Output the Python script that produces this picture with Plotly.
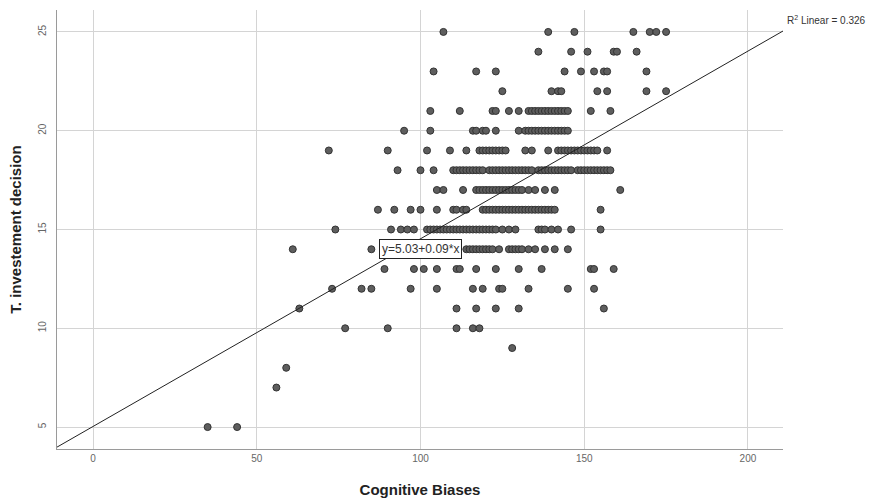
import plotly.graph_objects as go

# ---- data: Cognitive Biases score (x) for each T. investement decision value (y) ----
row_25 = [107, 139, 147, 165, 170, 172, 175]
row_24 = [136, 146, 151, 159, 160, 166]
row_23 = [104, 117, 123, 144, 149, 153, 156, 157, 169]
row_22 = [125, 140, 142, 143, 154, 157, 169, 175]
row_21 = [103, 112, 122, 123, 127, 130, 133, 134, 135, 136, 137, 138, 139, 140, 141,
          142, 143, 144, 145, 152, 158]
row_20 = [95, 103, 116, 117, 119, 120, 123, 130, 132, 133, 134, 135, 136, 137, 138,
          139, 140, 141, 142, 143, 144, 145]
row_19 = [72, 90, 102, 109, 114, 118, 119, 120, 121, 122, 123, 124, 125, 126, 132, 134,
          139, 142, 143, 144, 145, 146, 147, 148, 149, 150, 151, 152, 153, 154, 157]
row_18 = [93, 100, 104, 110, 111, 112, 113, 114, 115, 116, 117, 118, 119, 121, 122, 123,
          124, 125, 126, 127, 128, 129, 130, 131, 132, 133, 134, 136, 137, 138, 139, 140,
          141, 142, 143, 144, 145, 146, 148, 149, 150, 151, 152, 153, 154, 155, 156, 157, 158]
row_17 = [105, 107, 113, 117, 118, 119, 120, 121, 122, 123, 124, 125, 126, 127, 128, 129,
          130, 131, 133, 135, 138, 141, 161]
row_16 = [87, 92, 97, 100, 105, 110, 111, 113, 114, 119, 120, 121, 122, 123, 124, 125,
          126, 127, 128, 129, 130, 131, 132, 133, 134, 135, 136, 137, 138, 139, 140, 141, 155]
row_15 = [74, 91, 94, 96, 98, 102, 103, 104, 105, 106, 107, 108, 109, 110, 111, 112, 113,
          114, 115, 116, 117, 118, 119, 120, 121, 122, 123, 125, 127, 129, 136, 137, 138,
          140, 142, 146, 155]
row_14 = [61, 85, 90, 95, 100, 105, 110, 114, 115, 116, 117, 118, 119, 120, 121, 122, 124,
          127, 128, 129, 130, 131, 133, 135, 138, 141, 145]
row_13 = [89, 98, 101, 105, 111, 112, 117, 123, 130, 137, 152, 153, 159]
row_12 = [73, 82, 85, 97, 105, 116, 119, 124, 125, 133, 145, 153]
row_11 = [63, 111, 117, 123, 130, 156]
row_10 = [77, 90, 111, 116, 118]
row_9 = [128]
row_8 = [59]
row_7 = [56]
row_5 = [35, 44]

rows = {25: row_25, 24: row_24, 23: row_23, 22: row_22, 21: row_21, 20: row_20,
        19: row_19, 18: row_18, 17: row_17, 16: row_16, 15: row_15, 14: row_14,
        13: row_13, 12: row_12, 11: row_11, 10: row_10, 9: row_9, 8: row_8,
        7: row_7, 5: row_5}

fit_intercept = 5.03
fit_slope = 0.095
equation_label = "y=5.03+0.09*x"
r2_label = "R<sup>2</sup> Linear = 0.326"

x_ticks = [0, 50, 100, 150, 200]
y_ticks = [5, 10, 15, 20, 25]
x_range = [-11, 210.7]
y_range = [3.89, 26.11]

xs, ys = [], []
for yv, xl in rows.items():
    for xv in xl:
        xs.append(xv)
        ys.append(yv)

fig = go.Figure()
fig.add_trace(go.Scatter(
    x=xs, y=ys, mode="markers",
    marker=dict(size=7, color="#5e5e5e", line=dict(color="#333333", width=1)),
    showlegend=False, hoverinfo="x+y"))

line_x = x_range
line_y = [fit_intercept + fit_slope * v for v in line_x]
fig.add_trace(go.Scatter(
    x=line_x, y=line_y, mode="lines",
    line=dict(color="#222222", width=1), showlegend=False, hoverinfo="skip"))

fig.add_annotation(x=100, y=14, xref="x", yref="y", text=equation_label,
                   showarrow=False, bgcolor="white", bordercolor="#222222",
                   borderwidth=1, borderpad=2,
                   font=dict(family="Liberation Sans", size=12, color="#333333"))
fig.add_annotation(x=1.003, y=0.977, xref="paper", yref="paper", text=r2_label,
                   showarrow=False, xanchor="left", yanchor="middle",
                   font=dict(family="Liberation Sans", size=10, color="#333333"))

fig.update_layout(
    width=876, height=500,
    margin=dict(l=57, r=93, t=10, b=51),
    paper_bgcolor="white", plot_bgcolor="white",
    font=dict(family="Liberation Sans", color="#555555"),
)
fig.update_xaxes(
    range=x_range, tickvals=x_ticks, ticks="", showgrid=True, gridcolor="#d4d4d4",
    gridwidth=1, zeroline=False, showline=True, linecolor="#9a9a9a", linewidth=1,
    tickfont=dict(size=10, color="#666666"), automargin=False,
    title=dict(text="<b>Cognitive Biases</b>", standoff=21,
               font=dict(size=15, color="#222222")))
fig.update_yaxes(
    range=y_range, tickvals=y_ticks, ticks="", showgrid=True, gridcolor="#d4d4d4",
    gridwidth=1, zeroline=False, showline=True, linecolor="#9a9a9a", linewidth=1,
    tickangle=-90, ticklabelstandoff=6, tickfont=dict(size=10, color="#666666"),
    automargin=False,
    title=dict(text="<b>T. investement decision</b>", standoff=11,
               font=dict(size=15, color="#222222")))

fig.write_html("out.html", config={"displayModeBar": False},
               post_script="document.body.style.margin='0';document.body.style.padding='0';")
